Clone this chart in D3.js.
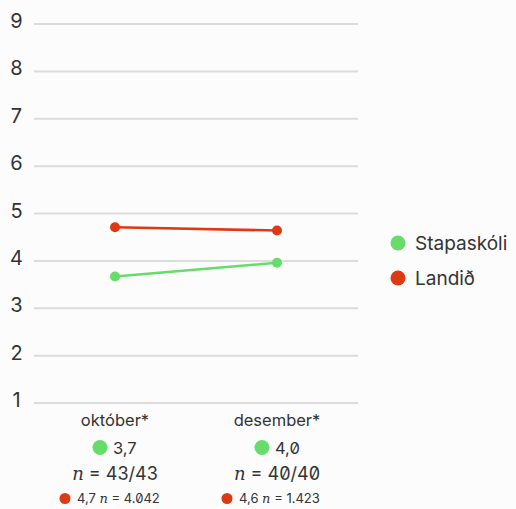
<!DOCTYPE html>
<head>
  <meta charset="utf-8">
  <style>
  body{
    margin:0;
    background-color:#fcfcfc;
    font-family:"Inter", sans-serif;
    color:#333;
  }
  .grid line{
    stroke:#dcdcdc;
    stroke-width:2px;
  }
  .tick text{
    font-size:20px;
    fill:#333;
  }
  .lbl{
    fill:#333;
    text-anchor:middle;
    font-feature-settings:"zero" 1;
  }
  .nn{
    font-family:"DejaVu Serif", serif;
    font-style:italic;
  }
  </style>
</head>
<body>
  <svg width="516" height="509"></svg>
  <script src="https://d3js.org/d3.v7.min.js"></script>
  <script>

  var categories = ["október*", "desember*"];
  var schoolName = "Stapaskóli";
  var countryName = "Landið";
  var schoolValues = [3.67, 3.96];
  var countryValues = [4.71, 4.64];
  var schoolLabels = ["3,7", "4,0"];
  var countryLabels = ["4,7", "4,6"];
  var schoolN = ["43/43", "40/40"];
  var countryN = ["4.042", "1.423"];
  var yTicks = [1, 2, 3, 4, 5, 6, 7, 8, 9];

  var green = "#66dc6a",
      red = "#dc3a14";

  var svg = d3.select("svg");

  var x = d3.scalePoint()
      .domain(categories)
      .range([34, 358])
      .padding(0.5);

  var y = d3.scaleLinear()
      .domain([1, 9])
      .range([403, 24]);

  // gridlines + tick labels
  var grid = svg.append("g").attr("class", "grid");
  grid.selectAll("line")
    .data(yTicks)
    .enter().append("line")
      .attr("x1", 34).attr("x2", 358)
      .attr("y1", function(d) { return y(d); })
      .attr("y2", function(d) { return y(d); });

  svg.append("g").attr("class", "tick")
    .selectAll("text")
    .data(yTicks)
    .enter().append("text")
      .attr("x", 16.5)
      .attr("y", function(d) { return y(d) + 4; })
      .attr("text-anchor", "middle")
      .text(function(d) { return d; });

  var line = d3.line()
      .x(function(d, i) { return x(categories[i]); })
      .y(function(d) { return y(d); });

  [[countryValues, red], [schoolValues, green]].forEach(function(s) {
    svg.append("path")
      .datum(s[0])
      .attr("fill", "none")
      .attr("stroke", s[1])
      .attr("stroke-width", 2.5)
      .attr("d", line);
    svg.selectAll(null)
      .data(s[0])
      .enter().append("circle")
        .attr("cx", function(d, i) { return x(categories[i]); })
        .attr("cy", function(d) { return y(d); })
        .attr("r", 5)
        .attr("fill", s[1]);
  });

  // legend
  var legend = svg.append("g");
  [[schoolName, green, 243], [countryName, red, 278]].forEach(function(l) {
    legend.append("circle").attr("cx", 398).attr("cy", l[2]).attr("r", 7.5).attr("fill", l[1]);
    legend.append("text").attr("x", 415).attr("y", l[2] + 6.5)
      .style("font-size", "19px").attr("fill", "#333").text(l[0]);
  });

  // category labels below
  categories.forEach(function(c, i) {
    var cx = x(c);
    svg.append("text").attr("class", "lbl").attr("x", cx).attr("y", 426)
      .style("font-size", "16.5px").text(c);

    var row2 = svg.append("g");
    row2.append("circle").attr("cx", cx - 15).attr("cy", 447.5).attr("r", 7.5).attr("fill", green);
    row2.append("text").attr("x", cx - 2).attr("y", 453.5)
      .attr("fill", "#333").style("font-size", "16.5px")
      .style("font-feature-settings", "\"zero\" 1").text(schoolLabels[i]);

    var t = svg.append("text").attr("class", "lbl").attr("x", cx).attr("y", 480)
      .style("font-size", "18px");
    t.append("tspan").attr("class", "nn").text("n");
    t.append("tspan").text(" = " + schoolN[i]);

    var g3 = svg.append("g");
    g3.append("circle").attr("cx", cx - 50).attr("cy", 498.5).attr("r", 5.5).attr("fill", red);
    var t3 = g3.append("text").attr("x", cx - 38).attr("y", 503)
      .attr("fill", "#333").style("font-size", "13px")
      .style("font-feature-settings", "\"zero\" 1");
    t3.append("tspan").text(countryLabels[i] + " ");
    t3.append("tspan").attr("class", "nn").text("n");
    t3.append("tspan").text(" = " + countryN[i]);
  });

  </script>
</body>
